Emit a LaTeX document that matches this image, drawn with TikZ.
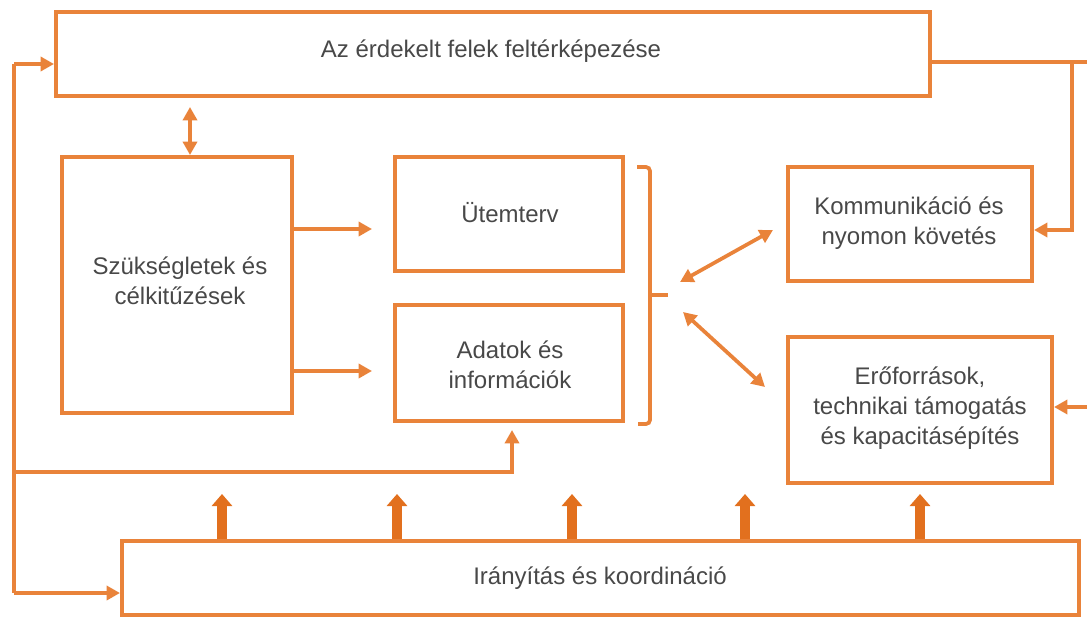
\documentclass[tikz,border=0pt]{standalone}
\usepackage{fontspec}
\setmainfont{Liberation Sans}
\usetikzlibrary{arrows.meta,fit,calc}
\definecolor{orng}{RGB}{233,131,58}
\definecolor{orngdk}{RGB}{226,112,30}
\definecolor{txt}{RGB}{72,72,72}
\tikzset{
  box/.style={draw=orng, line width=3pt, inner sep=0pt},
  lbl/.style={text=txt, font=\fontsize{18}{22.5}\selectfont, align=center},
  conn/.style={draw=orng, line width=2.8pt},
  tipend/.style={-{Triangle[length=10pt,width=10.5pt]}},
  tipboth/.style={{Triangle[length=10pt,width=10.5pt]}-{Triangle[length=10pt,width=10.5pt]}},
  bigup/.style={draw=orngdk, line width=7pt, -{Triangle[length=9pt,width=15pt]}}
}
\begin{document}
\begin{tikzpicture}[x=0.75pt,y=-0.75pt]
\useasboundingbox (0,0) rectangle (1087,617);
% boxes
\node[box, fit={(56,12) (930,96)}] (top) {};
\node[lbl] (ttop) at (491,51) {Az érdekelt felek feltérképezése};
\node[box, fit={(62,157) (292,413)}] (szuk) {};
\node[lbl] (tszuk) at (180,281) {Szükségletek és\\célkitűzések};
\node[box, fit={(395,157) (623,271)}] (utem) {};
\node[lbl] (tutem) at (510,213) {Ütemterv};
\node[box, fit={(395,305) (623,421)}] (adat) {};
\node[lbl] (tadat) at (510,365) {Adatok és\\információk};
\node[box, fit={(788,167) (1032,281)}] (komm) {};
\node[lbl] (tkomm) at (909,223) {Kommunikáció és\\nyomon követés};
\node[box, fit={(788,337) (1052,483)}] (erof) {};
\node[lbl] (terof) at (920,408) {Erőforrások,\\technikai támogatás\\és kapacitásépítés};
\node[box, fit={(122,541) (1079,615)}] (irany) {};
\node[lbl] (tirany) at (600,578) {Irányítás és koordináció};
% left loop
\coordinate (L1) at (14,64);
\coordinate (L2) at (14,593);
\coordinate (L3) at (14,472);
\coordinate (L5) at (512,430);
\draw[conn] (L1) -- (L2);
\draw[conn, tipend] (L1) -- (top.west |- L1);
\draw[conn, tipend] (L2) -- (irany.west |- L2);
\draw[conn, tipend] (L3) -| (L5);
% right side
\coordinate (R0) at (1090,62);
\coordinate (R1) at (1072,62);
\coordinate (R2) at (1072,230);
\coordinate (R3) at (1090,407);
\draw[conn] (top.east |- R0) -- (R0);
\draw[conn, tipend] (R1) -- (R2) -- (komm.east |- R2);
\draw[conn, tipend] (R3) -- (erof.east |- R3);
% top <-> szuk
\coordinate (D1) at (190,107);
\draw[conn, tipboth] (D1) -- (szuk.north -| D1);
% szuk -> utem, adat
\coordinate (A1) at (372,229);
\coordinate (A2) at (372,371);
\draw[conn, tipend] (szuk.east |- A1) -- (A1);
\draw[conn, tipend] (szuk.east |- A2) -- (A2);
% bracket
\coordinate (B1) at (637,167);
\coordinate (B2) at (650,167);
\coordinate (B3) at (650,424);
\coordinate (B4) at (638,424);
\coordinate (BM) at (650,295);
\coordinate (BT) at (668,295);
\draw[conn, rounded corners=3pt] (B1) -- (B2) -- (B3) -- (B4);
\draw[conn] (BM) -- (BT);
% diagonal arrows
\coordinate (K1) at (680,282);
\coordinate (K2) at (773,230);
\coordinate (E1) at (683,312);
\coordinate (E2) at (765,387);
\draw[conn, tipboth] (K1) -- (K2);
\draw[conn, tipboth] (E1) -- (E2);
% thick up arrows
\foreach \i/\xx in {1/222,2/397,3/572,4/745,5/920}{
  \coordinate (U\i) at (\xx,494);
  \draw[bigup] (irany.north -| U\i) -- (U\i);
}
\end{tikzpicture}
\end{document}
